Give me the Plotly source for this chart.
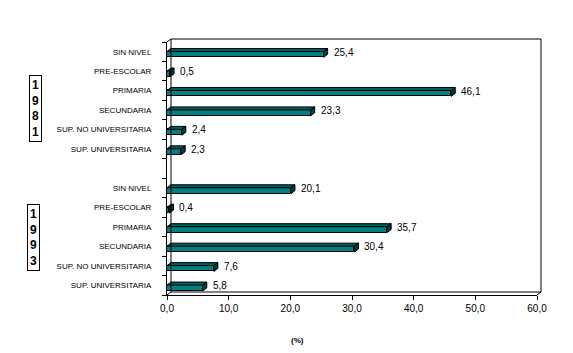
import plotly.graph_objects as go

# ---- data ----
levels = ["SIN NIVEL", "PRE-ESCOLAR", "PRIMARIA", "SECUNDARIA",
          "SUP. NO UNIVERSITARIA", "SUP. UNIVERSITARIA"]
values_1981 = [25.4, 0.5, 46.1, 23.3, 2.4, 2.3]
values_1993 = [20.1, 0.4, 35.7, 30.4, 7.6, 5.8]
years = ["1981", "1993"]
x_ticks = [0, 10, 20, 30, 40, 50, 60]

# ---- layout geometry (pixels) ----
W, H = 573, 353
L, R, T, B = 167, 537, 42, 295
XMAX = 60.0
NSLOT = 13
px_per_x = (R - L) / XMAX
px_per_y = (B - T) / NSLOT
DX = 4 / px_per_x      # depth offset in data units (x)
DY = 3 / px_per_y      # depth offset in data units (y)
BW = 0.30              # bar thickness (category units)
OFF = 0.14             # bar shift from category centre

positions = list(range(0, 6)) + list(range(7, 13))
values = values_1981 + values_1993
labels = levels + levels
fmt = lambda v: f"{v:.1f}".replace(".", ",")

FRONT = "#008080"
TOP = "#005e5e"
SIDE = "#003f3f"

fig = go.Figure()

ys = [p + OFF for p in positions]
fig.add_trace(go.Bar(
    orientation="h", x=values, y=ys, width=BW,
    marker=dict(color=FRONT, line=dict(color="black", width=1)),
    hoverinfo="skip", showlegend=False,
))

# 3D faces derived from the values
tx, ty, sx, sy = [], [], [], []
for v, c in zip(values, ys):
    top = c - BW / 2
    bot = c + BW / 2
    tx += [0, v, v + DX, DX, 0, None]
    ty += [top, top, top - DY, top - DY, top, None]
    sx += [v, v + DX, v + DX, v, v, None]
    sy += [top, top - DY, bot - DY, bot, top, None]
fig.add_trace(go.Scatter(x=tx, y=ty, mode="lines", fill="toself", fillcolor=TOP,
                         line=dict(color="black", width=1), hoverinfo="skip",
                         showlegend=False, cliponaxis=False))
fig.add_trace(go.Scatter(x=sx, y=sy, mode="lines", fill="toself", fillcolor=SIDE,
                         line=dict(color="black", width=1), hoverinfo="skip",
                         showlegend=False, cliponaxis=False))

annotations = []
for v, c in zip(values, ys):
    annotations.append(dict(x=v + DX, y=c - 0.12, xref="x", yref="y", text=fmt(v),
                            showarrow=False, xanchor="left", yanchor="middle",
                            xshift=4, font=dict(size=10, color="black",
                                                family="Liberation Sans, Arial")))

# year boxes
year_pos = [(35.5, 108), (33.5, 237.5)]
for yr, (px, py) in zip(years, year_pos):
    annotations.append(dict(
        x=(px - L) / (R - L), y=(B - py) / (B - T), xref="paper", yref="paper",
        text="<br>".join(list(yr)), showarrow=False, xanchor="center", yanchor="middle",
        bordercolor="black", borderwidth=1, borderpad=2, bgcolor="white",
        font=dict(size=12, color="black", family="Liberation Sans, Arial"),
    ))
    annotations[-1]["text"] = "<b>" + "<br>".join(list(yr)) + "</b>"

# axis title
annotations.append(dict(x=(297 - L) / (R - L), y=-(340 - B) / (B - T), xref="paper",
                        yref="paper", text="<b>(%)</b>", showarrow=False,
                        xanchor="center", yanchor="middle",
                        font=dict(size=8, color="black", family="Liberation Sans, Arial")))

# 3D frame (back wall + floor edges)
px2x = lambda p: (p - L) / (R - L)
px2y = lambda p: (B - p) / (B - T)
bl, bt, br, bb = L + 4, T - 3, R + 4, B - 3
line = dict(color="black", width=1)
shapes = [
    dict(type="line", xref="paper", yref="paper", x0=px2x(bl), y0=px2y(bt), x1=px2x(br), y1=px2y(bt), line=line),
    dict(type="line", xref="paper", yref="paper", x0=px2x(br), y0=px2y(bt), x1=px2x(br), y1=px2y(bb), line=line),
    dict(type="line", xref="paper", yref="paper", x0=px2x(bl), y0=px2y(bt), x1=px2x(bl), y1=px2y(bb), line=line),
    dict(type="line", xref="paper", yref="paper", x0=px2x(bl), y0=px2y(bb), x1=px2x(br), y1=px2y(bb), line=line),
    dict(type="line", xref="paper", yref="paper", x0=px2x(L), y0=px2y(T), x1=px2x(bl), y1=px2y(bt), line=line),
    dict(type="line", xref="paper", yref="paper", x0=px2x(L), y0=px2y(B), x1=px2x(bl), y1=px2y(bb), line=line),
    dict(type="line", xref="paper", yref="paper", x0=px2x(R), y0=px2y(B), x1=px2x(br), y1=px2y(bb), line=line),
]

tickvals_y = list(range(NSLOT))
ticktext_y = [""] * NSLOT
for p, lab in zip(positions, labels):
    ticktext_y[p] = lab

fig.update_layout(
    width=W, height=H,
    margin=dict(l=L, r=W - R, t=T, b=H - B, pad=0),
    paper_bgcolor="white", plot_bgcolor="white",
    showlegend=False, bargap=0,
    annotations=annotations, shapes=shapes,
    xaxis=dict(range=[0, XMAX], tickvals=x_ticks, ticktext=[fmt(t) for t in x_ticks],
               showgrid=False, zeroline=False, showline=True, linecolor="black",
               linewidth=1, ticks="outside", ticklen=4, tickcolor="black",
               tickfont=dict(size=10, color="black", family="Liberation Sans, Arial"),
               fixedrange=True),
    yaxis=dict(range=[NSLOT - 0.5, -0.5], tickvals=tickvals_y, ticktext=ticktext_y,
               showgrid=False, zeroline=False, showline=True, linecolor="black",
               linewidth=1, ticks="", ticklabelstandoff=13,
               minor=dict(tickmode="linear", tick0=-0.5, dtick=1, ticks="outside",
                          ticklen=4, tickcolor="black", showgrid=False),
               tickfont=dict(size=8, color="black", family="Liberation Sans, Arial"),
               fixedrange=True),
)

fig.write_html("out.html", config={"displayModeBar": False})
